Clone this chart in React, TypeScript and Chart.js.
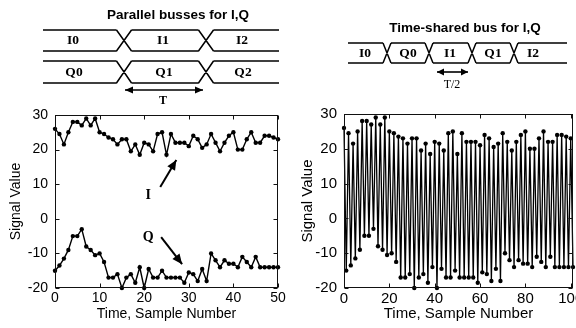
import React, { useEffect, useRef } from "react";
import { Chart, registerables } from "chart.js";
Chart.register(...registerables);

// ---------- data ----------
const sampleNumbers = [
  0, 1, 2, 3, 4, 5, 6, 7, 8, 9, 10, 11, 12, 13, 14, 15, 16, 17, 18, 19, 20,
  21, 22, 23, 24, 25, 26, 27, 28, 29, 30, 31, 32, 33, 34, 35, 36, 37, 38, 39,
  40, 41, 42, 43, 44, 45, 46, 47, 48, 49, 50,
];
const iValues = [
  26, 24.5, 21.5, 25, 28, 28, 27, 29, 27, 29, 25, 24.5, 23.5, 23, 21.5, 23, 23,
  19.5, 21.5, 18.5, 22, 21.5, 19.5, 24.5, 25, 18.5, 24.5, 22, 22, 22, 21, 24, 23,
  20.5, 21.5, 24.5, 22, 19.5, 22, 24, 25, 20, 20, 23, 25, 22, 22, 24, 24, 23.5, 23,
];
const qValues = [
  -15, -13.5, -11.5, -9, -5, -5, -3, -8, -9, -10.5, -10, -12.5, -17, -17, -16,
  -20, -17, -16, -18.5, -14, -20, -14.5, -17, -17, -15, -17, -17, -17, -17,
  -18.5, -15.5, -16, -18, -14.5, -18, -10, -12, -14, -12, -13, -13, -14, -11,
  -12.5, -14, -11, -14, -14, -14, -14, -14,
];
const leftXTicks = [0, 10, 20, 30, 40, 50];
const rightXTicks = [0, 20, 40, 60, 80, 100];
const yTicks = [-20, -10, 0, 10, 20, 30];
const parallelTitle = "Parallel busses for I,Q";
const sharedTitle = "Time-shared bus for I,Q";
const parallelILabels = ["I0", "I1", "I2"];
const parallelQLabels = ["Q0", "Q1", "Q2"];
const sharedLabels = ["I0", "Q0", "I1", "Q1", "I2"];
const periodLabel = "T";
const halfPeriodLabel = "T/2";
const iMarker = "I";
const qMarker = "Q";
const xTitle = "Time, Sample Number";
const yTitle = "Signal Value";

// interleaved time-shared sequence built from the two series
const sharedIndex: number[] = [];
const sharedValues: number[] = [];
sampleNumbers.forEach((n, k) => {
  sharedIndex.push(2 * n, 2 * n + 1);
  sharedValues.push(iValues[k], qValues[k]);
});

const SANS = "'Liberation Sans', Arial, Helvetica, sans-serif";
const SERIF = "'Liberation Serif', 'Times New Roman', serif";

// ---------- drawing helpers ----------
function drawBus(ctx: CanvasRenderingContext2D, x0: number, x1: number, yTop: number, yBot: number, crossings: number[], hw: number) {
  const b = [x0, ...crossings, x1];
  ctx.beginPath();
  for (let i = 0; i < b.length - 1; i++) {
    const a = i === 0 ? b[i] : b[i] + hw;
    const e = i === b.length - 2 ? b[i + 1] : b[i + 1] - hw;
    ctx.moveTo(a, yTop);
    ctx.lineTo(e, yTop);
    ctx.moveTo(a, yBot);
    ctx.lineTo(e, yBot);
  }
  for (const c of crossings) {
    ctx.moveTo(c - hw, yTop);
    ctx.lineTo(c + hw, yBot);
    ctx.moveTo(c - hw, yBot);
    ctx.lineTo(c + hw, yTop);
  }
  ctx.stroke();
}

function arrowHead(ctx: CanvasRenderingContext2D, x: number, y: number, ang: number, len: number, half: number) {
  const c = Math.cos(ang), s = Math.sin(ang);
  ctx.beginPath();
  ctx.moveTo(x, y);
  ctx.lineTo(x - len * c + half * s, y - len * s - half * c);
  ctx.lineTo(x - len * c - half * s, y - len * s + half * c);
  ctx.closePath();
  ctx.fill();
}

function arrow(ctx: CanvasRenderingContext2D, x0: number, y0: number, x1: number, y1: number, both: boolean, len: number, half: number) {
  const ang = Math.atan2(y1 - y0, x1 - x0);
  ctx.beginPath();
  ctx.moveTo(x0, y0);
  ctx.lineTo(x1, y1);
  ctx.stroke();
  arrowHead(ctx, x1, y1, ang, len, half);
  if (both) arrowHead(ctx, x0, y0, ang + Math.PI, len, half);
}

const framePlugin = {
  id: "frameTicks",
  afterDraw(chart: any) {
    const ctx = chart.ctx as CanvasRenderingContext2D;
    const { left, right, top, bottom } = chart.chartArea;
    const xs = chart.scales.x, ys = chart.scales.y;
    ctx.save();
    ctx.strokeStyle = "#111";
    ctx.lineWidth = 1;
    const L = Math.round(left) + 0.5, R = Math.round(right) - 0.5;
    const T = Math.round(top) + 0.5, B = Math.round(bottom) - 0.5;
    ctx.strokeRect(L, T, R - L, B - T);
    ctx.beginPath();
    xs.ticks.forEach((t: any) => {
      const px = Math.round(xs.getPixelForValue(t.value)) + 0.5;
      ctx.moveTo(px, B); ctx.lineTo(px, B - 4);
      ctx.moveTo(px, T); ctx.lineTo(px, T + 4);
    });
    ys.ticks.forEach((t: any) => {
      const py = Math.round(ys.getPixelForValue(t.value)) + 0.5;
      ctx.moveTo(L, py); ctx.lineTo(L + 4, py);
      ctx.moveTo(R, py); ctx.lineTo(R - 4, py);
    });
    ctx.stroke();
    ctx.restore();
  },
};

const parallelDeco = {
  id: "parallelDeco",
  afterDraw(chart: any) {
    const ctx = chart.ctx as CanvasRenderingContext2D;
    const xs = chart.scales.x, ys = chart.scales.y;
    ctx.save();
    ctx.fillStyle = "#000";
    ctx.strokeStyle = "#000";
    ctx.textAlign = "center";
    ctx.textBaseline = "middle";
    ctx.font = `bold 13.5px ${SANS}`;
    ctx.fillText(parallelTitle, 178, 15);
    ctx.lineWidth = 1.5;
    const cross = [124, 206];
    drawBus(ctx, 43, 279, 30, 51, cross, 7.5);
    drawBus(ctx, 43, 279, 61, 83, cross, 7.5);
    const lx = [73, 163, 242];
    ctx.font = `bold 13.5px ${SERIF}`;
    parallelILabels.forEach((s, i) => ctx.fillText(s, lx[i], 41));
    parallelQLabels.forEach((s, i) => ctx.fillText(s, lx[i] + 1, 72.5));
    ctx.lineWidth = 1.6;
    arrow(ctx, 125, 90, 203, 90, true, 8, 3.5);
    ctx.font = `bold 12px ${SERIF}`;
    ctx.fillText(periodLabel, 163, 101);
    // annotations in the plot, in data coordinates
    const px = (v: number) => xs.getPixelForValue(v);
    const py = (v: number) => ys.getPixelForValue(v);
    ctx.font = `bold 14px ${SERIF}`;
    ctx.fillText(iMarker, px(20.9), py(6.9));
    ctx.fillText(qMarker, px(20.9), py(-5.5));
    ctx.lineWidth = 2;
    arrow(ctx, px(23.6), py(9.2), px(27.2), py(17), false, 10, 4.5);
    arrow(ctx, px(23.8), py(-5.3), px(28.5), py(-13.1), false, 10, 4.5);
    ctx.restore();
  },
};

const sharedDeco = {
  id: "sharedDeco",
  afterDraw(chart: any) {
    const ctx = chart.ctx as CanvasRenderingContext2D;
    const ox = -290;
    ctx.save();
    ctx.fillStyle = "#000";
    ctx.strokeStyle = "#000";
    ctx.textAlign = "center";
    ctx.textBaseline = "middle";
    ctx.font = `bold 13.5px ${SANS}`;
    ctx.fillText(sharedTitle, 465 + ox, 28);
    ctx.lineWidth = 1.5;
    drawBus(ctx, 348 + ox, 567 + ox, 43, 63, [387 + ox, 429 + ox, 472 + ox, 514 + ox], 4);
    const lx = [365, 408, 450, 493, 533];
    ctx.font = `bold 13.5px ${SERIF}`;
    sharedLabels.forEach((s, i) => ctx.fillText(s, lx[i] + ox, 53.5));
    ctx.lineWidth = 1.6;
    arrow(ctx, 437 + ox, 72, 468 + ox, 72, true, 7, 3.5);
    ctx.font = `12px ${SERIF}`;
    ctx.fillText(halfPeriodLabel, 452 + ox, 85);
    ctx.restore();
  },
};

function makeConfig(o: any): any {
  const tickFont = { family: SANS, size: o.tickSize };
  const titleFont = { family: SANS, size: o.titleSize };
  return {
    type: "line",
    data: {
      datasets: [o.data].flat().map((d: any) => ({
        data: d,
        borderColor: "#000",
        backgroundColor: "#000",
        borderWidth: o.lineWidth,
        pointRadius: o.pointRadius,
        pointBorderWidth: 0,
        pointBackgroundColor: "#000",
        tension: 0,
        clip: false,
      })),
    },
    options: {
      responsive: false,
      animation: false,
      events: [],
      layout: { padding: o.padding },
      plugins: { legend: { display: false }, tooltip: { enabled: false } },
      scales: {
        x: {
          type: "linear",
          min: o.xMin,
          max: o.xMax,
          afterBuildTicks: (s: any) => { s.ticks = o.xTicks.map((v: number) => ({ value: v })); },
          afterFit: (s: any) => { s.height = 40; },
          grid: { display: false, drawTicks: false },
          border: { display: false },
          ticks: { color: "#000", font: tickFont, padding: 2, maxRotation: 0, autoSkip: false },
          title: { display: true, text: xTitle, color: "#000", font: titleFont, padding: { top: 0, bottom: 5 } },
        },
        y: {
          type: "linear",
          min: -20,
          max: 30,
          afterBuildTicks: (s: any) => { s.ticks = yTicks.map((v) => ({ value: v })); },
          afterFit: (s: any) => { s.width = o.yWidth; },
          grid: { display: false, drawTicks: false },
          border: { display: false },
          ticks: { color: "#000", font: tickFont, padding: 7 },
          title: { display: true, text: yTitle, color: "#000", font: titleFont, padding: { top: o.yTitlePad, bottom: 0 } },
        },
      },
    },
    plugins: [framePlugin, o.deco],
  };
}

function ChartCanvas({ config, width, height, left }: any) {
  const ref = useRef<HTMLCanvasElement | null>(null);
  useEffect(() => {
    if (!ref.current) return;
    const chart = new Chart(ref.current, config);
    return () => chart.destroy();
  }, [config]);
  return (
    <canvas
      ref={ref}
      width={width}
      height={height}
      style={{ position: "absolute", left, top: 0, width, height }}
    />
  );
}

const leftConfig = makeConfig({
  data: [
    iValues.map((y, k) => ({ x: sampleNumbers[k], y })),
    qValues.map((y, k) => ({ x: sampleNumbers[k], y })),
  ],
  xMin: 0,
  xMax: 50,
  xTicks: leftXTicks,
  tickSize: 14,
  titleSize: 14,
  lineWidth: 1.4,
  pointRadius: 2.2,
  padding: { left: 0, top: 115, right: 12, bottom: 0 },
  yWidth: 55,
  yTitlePad: 7.5,
  deco: parallelDeco,
});

const rightConfig = makeConfig({
  data: [sharedValues.map((y, k) => ({ x: sharedIndex[k], y }))],
  xMin: 0,
  xMax: 101,
  xTicks: rightXTicks,
  tickSize: 15,
  titleSize: 15,
  lineWidth: 1.3,
  pointRadius: 2.2,
  padding: { left: 0, top: 114, right: 14, bottom: 0 },
  yWidth: 54,
  yTitlePad: 9,
  deco: sharedDeco,
});

export default function App() {
  useEffect(() => {
    document.body.style.margin = "0";
    document.body.style.background = "#fff";
  }, []);
  return (
    <div style={{ position: "fixed", left: 0, top: 0, width: 576, height: 328, overflow: "hidden", background: "#fff" }}>
      <ChartCanvas config={leftConfig} width={290} height={328} left={0} />
      <ChartCanvas config={rightConfig} width={297} height={328} left={290} />
    </div>
  );
}
